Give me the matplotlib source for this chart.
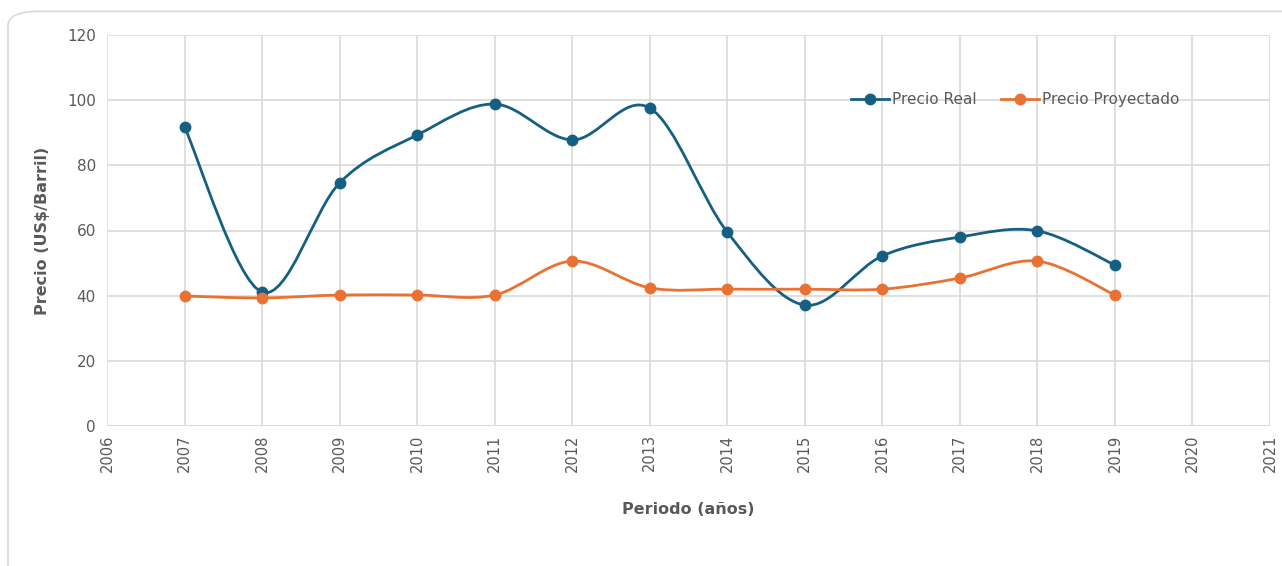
import matplotlib
matplotlib.use("Agg")
import matplotlib.pyplot as plt
import numpy as np
from matplotlib.path import Path
from matplotlib.patches import PathPatch, FancyBboxPatch
from matplotlib.lines import Line2D

years = [2007, 2008, 2009, 2010, 2011, 2012, 2013, 2014, 2015, 2016, 2017, 2018, 2019]
precio_real = [91.8, 41.1, 74.6, 89.3, 98.8, 87.8, 97.6, 59.5, 37.1, 52.2, 58.0, 59.9, 49.4]
precio_proyectado = [39.9, 39.3, 40.2, 40.2, 40.2, 50.6, 42.4, 42.0, 42.0, 42.0, 45.4, 50.6, 40.2]

BLUE = "#156082"
ORANGE = "#E97132"
GREY = "#595959"
GRID = "#d9d9d9"


def smooth_path(x, y):
    # bezier segments like a spreadsheet "smoothed line"
    p = np.column_stack([x, y]).astype(float)
    n = len(p)
    verts = [p[0]]
    codes = [Path.MOVETO]
    for i in range(n - 1):
        p0 = p[i - 1] if i > 0 else p[i]
        p3 = p[i + 2] if i + 2 < n else p[i + 1]
        c1 = p[i] + (p[i + 1] - p0) / 6
        c2 = p[i + 1] - (p3 - p[i]) / 6
        verts += [c1, c2, p[i + 1]]
        codes += [Path.CURVE4] * 3
    return Path(verts, codes)


fig = plt.figure(figsize=(12.82, 5.66), dpi=100)
fig.patches.append(FancyBboxPatch((8 / 1282, -0.05), 1.2, 1.03, boxstyle="round,pad=0,rounding_size=0.025",
                                  transform=fig.transFigure, fc="none", ec=GRID, lw=1.2, zorder=-1))
ax = fig.add_axes([107 / 1282, 1 - 426 / 566, (1270 - 107) / 1282, (426 - 35) / 566])
ax.set_facecolor("none")

for vals, col in [(precio_real, BLUE), (precio_proyectado, ORANGE)]:
    ax.add_patch(PathPatch(smooth_path(years, vals), fc="none", ec=col, lw=2.0, zorder=3))
    ax.plot(years, vals, ls="none", marker="o", ms=7.5, color=col, zorder=4)

ax.set_xlim(2006, 2021)
ax.set_ylim(0, 120)
ax.set_xticks(range(2006, 2022))
ax.set_yticks(range(0, 121, 20))
ax.grid(True, color=GRID, lw=1.2)
for s in ax.spines.values():
    s.set_visible(False)
ax.axhline(0, color=GRID, lw=1.5, zorder=1)
ax.tick_params(length=0, colors=GREY)
ax.tick_params(axis="x", labelrotation=90, labelsize=10.5, pad=6)
ax.tick_params(axis="y", labelsize=11, pad=8)

ax.set_ylabel("Precio (US$/Barril)", fontsize=11.5, fontweight="bold", color=GREY, labelpad=12)
ax.set_xlabel("Periodo (años)", fontsize=11.5, fontweight="bold", color=GREY, labelpad=22)

handles = [Line2D([], [], color=BLUE, lw=2.0, marker="o", ms=7.5),
           Line2D([], [], color=ORANGE, lw=2.0, marker="o", ms=7.5)]
leg = ax.legend(handles, ["Precio Real", "Precio Proyectado"], loc="center", bbox_to_anchor=(0.781, 0.835),
                ncol=2, frameon=False, handlelength=2.5, handletextpad=0.2, columnspacing=1.6,
                prop={"size": 11})
for t in leg.get_texts():
    t.set_color(GREY)

fig.savefig("out.png", dpi=100)
